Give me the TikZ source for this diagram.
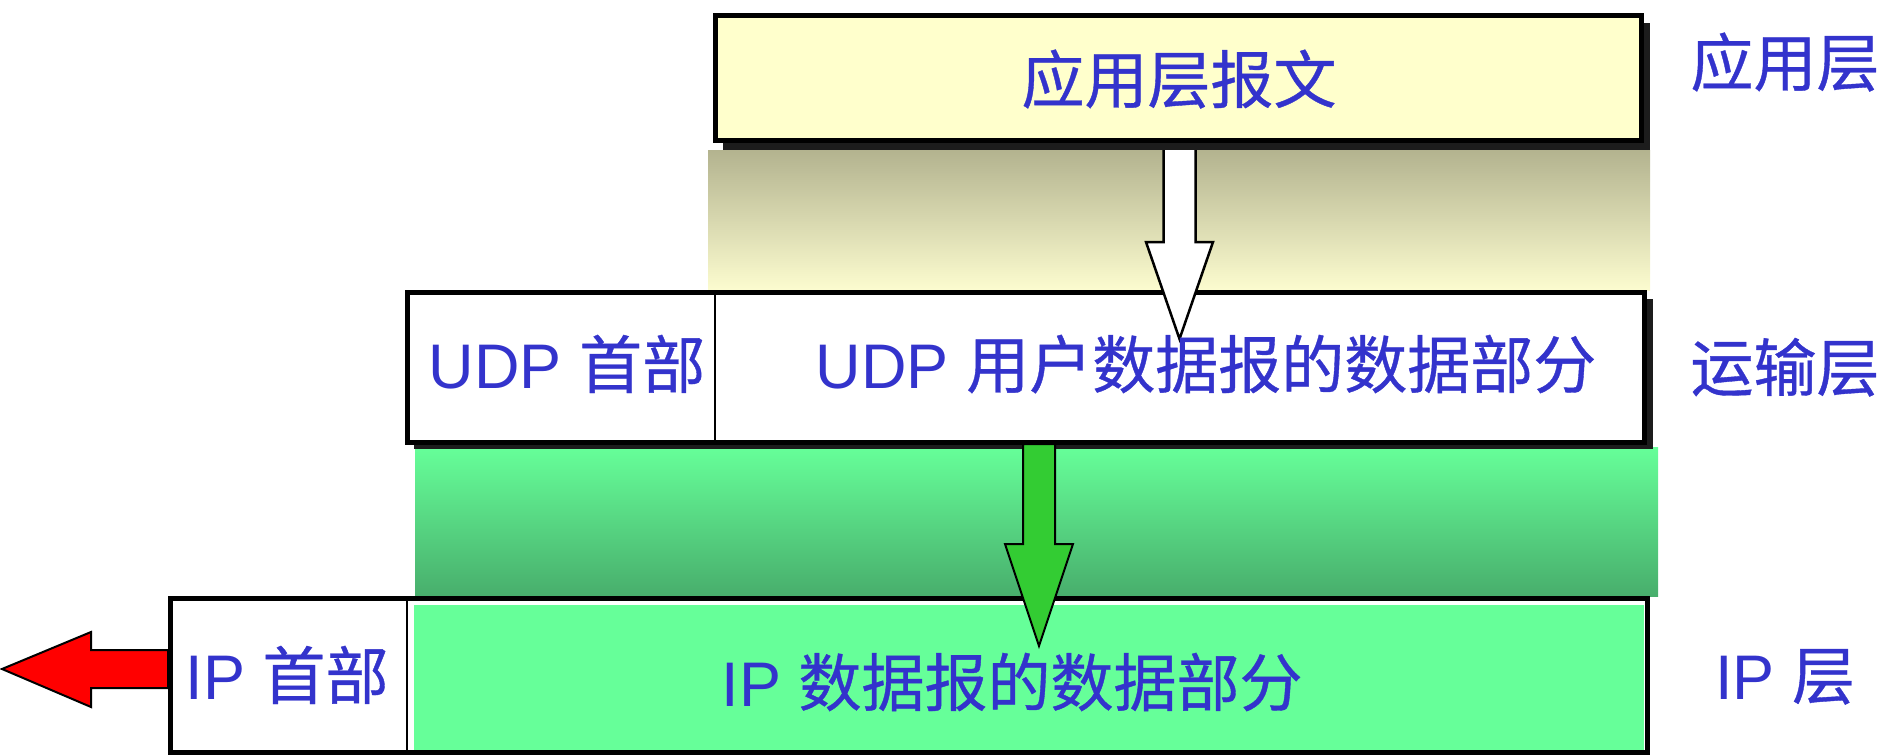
\documentclass[tikz,border=0pt]{standalone}
\usepackage{fontspec}
\setmainfont{Liberation Sans}
\newfontfamily\cjk[FakeBold=0.6]{Noto Sans CJK SC}
\definecolor{txtblue}{HTML}{3333CC}
\definecolor{appyellow}{HTML}{FFFFCC}
\definecolor{khakitop}{HTML}{B3B38F}
\definecolor{khakimid}{HTML}{D6D6AE}
\definecolor{khakibot}{HTML}{FCFCCF}
\definecolor{greentop}{HTML}{66FF99}
\definecolor{greenmid}{HTML}{5EE08A}
\definecolor{greenbot}{HTML}{48AE6C}
\definecolor{ipgreen}{HTML}{66FF99}
\definecolor{arrowgreen}{HTML}{33CC33}
\definecolor{shadowgray}{HTML}{1C1C1C}
\begin{document}
\begin{tikzpicture}[x=1pt,y=-1pt,
  lbl/.style={anchor=base, inner sep=0pt, text=txtblue, font=\fontsize{63}{70}\selectfont},
  frame/.style={draw=black, line width=5pt, inner sep=0pt, outer sep=0pt},
  blockarrow/.style={draw=black, line width=2.5pt, line join=miter},
  divider/.style={draw=black, line width=2pt}]
\useasboundingbox (0,0) rectangle (1884,755);

% gradients between the layers
\shade[top color=khakitop, middle color=khakimid, bottom color=khakibot] (708,150) rectangle (1650,290);
\shade[top color=greentop, middle color=greenmid, bottom color=greenbot] (415,447) rectangle (1658,596);

% red arrow (leaving IP header)
\draw[blockarrow, line width=2pt, fill=red] (168,650) -- (91,650) -- (91,632) -- (2,669) -- (91,707) -- (91,688) -- (168,688) -- cycle;

% UDP datagram
\fill[shadowgray] (414,299) rectangle (1653,449);
\node[frame, fill=white, minimum width=1237pt, minimum height=150pt] (udp) at (1026,367.5) {};
\coordinate (udpcut) at (715,0);
\draw[divider] (udp.north -| udpcut) -- (udp.south -| udpcut);

% white arrow (application -> transport)
\draw[blockarrow, fill=white] (1163.5,140) -- (1163.5,242) -- (1146,242) -- (1179.5,339) -- (1213,242) -- (1195.5,242) -- (1195.5,140) -- cycle;

% application message
\fill[shadowgray] (723,23) rectangle (1650,150);
\node[frame, fill=appyellow, minimum width=925.5pt, minimum height=125pt] (app) at (1178.25,78) {};

% IP datagram
\node[frame, fill=white, minimum width=1477pt, minimum height=154pt] (ip) at (909,675.5) {};
\fill[ipgreen] (414,605) rectangle (1644,750);
\coordinate (ipcut) at (407,0);
\draw[divider] (ip.north -| ipcut) -- (ip.south -| ipcut);

% green arrow (transport -> IP)
\draw[blockarrow, line width=2pt, fill=arrowgreen] (1023,444) -- (1023,544) -- (1005,544) -- (1039,646) -- (1073,544) -- (1055,544) -- (1055,444) -- cycle;

% texts
\node[lbl] (tapp) at (1179,103) {\cjk 应用层报文};
\node[lbl] (tudph) at (567,388) {UDP {\cjk 首部}};
\node[lbl] (tudpd) at (1206,388) {UDP {\cjk 用户数据报的数据部分}};
\node[lbl] (tiph) at (287,699) {IP {\cjk 首部}};
\node[lbl] (tipd) at (1012,706) {IP {\cjk 数据报的数据部分}};
\node[lbl] (lapp) at (1785,86) {\cjk 应用层};
\node[lbl] (ltra) at (1785,391) {\cjk 运输层};
\node[lbl] (lip) at (1785,699) {IP {\cjk 层}};
\end{tikzpicture}
\end{document}
